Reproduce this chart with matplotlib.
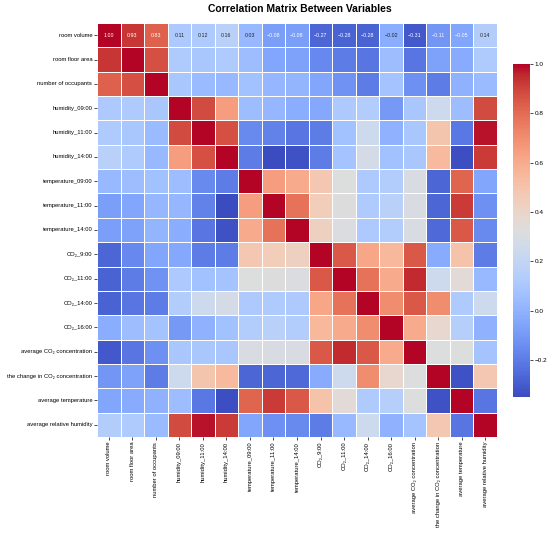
import matplotlib

matplotlib.use("Agg")
import matplotlib.pyplot as plt
import numpy as np
import seaborn as sns

plt.rcParams["font.family"] = ["Liberation Sans", "DejaVu Sans"]

labels = [
    "room volume",
    "room floor area",
    "number of occupants",
    "humidity_09:00",
    "humidity_11:00",
    "humidity_14:00",
    "temperature_09:00",
    "temperature_11:00",
    "temperature_14:00",
    "CO\u2082_9:00",
    "CO\u2082_11:00",
    "CO\u2082_14:00",
    "CO\u2082_16:00",
    "average CO\u2082 concentration",
    "the change in CO\u2082 concentration",
    "average temperature",
    "average relative humidity",
]

# correlation values (row by row)
corr_rows = [
    [1.00, 0.93, 0.83, 0.11, 0.12, 0.16, 0.03, -0.08, -0.08, -0.27, -0.28, -0.28, -0.02, -0.31, -0.11, -0.05, 0.14],
    [0.93, 1.00, 0.87, 0.12, 0.10, 0.12, 0.05, -0.05, -0.07, -0.16, -0.20, -0.22, 0.05, -0.22, -0.07, -0.03, 0.12],
    [0.83, 0.87, 1.00, 0.10, 0.04, 0.03, 0.07, 0.02, 0.01, -0.05, -0.12, -0.20, 0.08, -0.13, -0.20, 0.00, 0.04],
    [0.11, 0.12, 0.10, 1.00, 0.88, 0.65, 0.05, 0.02, -0.02, -0.04, 0.11, 0.13, -0.10, 0.10, 0.25, 0.05, 0.88],
    [0.12, 0.10, 0.04, 0.88, 1.00, 0.87, -0.15, -0.18, -0.22, -0.20, 0.07, 0.25, 0.00, 0.10, 0.49, -0.21, 0.98],
    [0.16, 0.12, 0.03, 0.65, 0.87, 1.00, -0.20, -0.35, -0.33, -0.20, 0.08, 0.28, 0.07, 0.10, 0.54, -0.34, 0.92],
    [0.03, 0.05, 0.07, 0.05, -0.15, -0.20, 1.00, 0.65, 0.60, 0.48, 0.32, 0.11, 0.13, 0.30, -0.27, 0.82, -0.05],
    [-0.08, -0.05, 0.02, 0.02, -0.18, -0.35, 0.65, 1.00, 0.78, 0.45, 0.33, 0.12, 0.16, 0.30, -0.27, 0.92, -0.13],
    [-0.08, -0.07, 0.01, -0.02, -0.22, -0.33, 0.60, 0.78, 1.00, 0.43, 0.31, 0.11, 0.13, 0.30, -0.26, 0.85, -0.15],
    [-0.27, -0.16, -0.05, -0.04, -0.20, -0.20, 0.48, 0.45, 0.43, 1.00, 0.85, 0.62, 0.55, 0.85, -0.03, 0.50, -0.20],
    [-0.28, -0.20, -0.12, 0.11, 0.07, 0.08, 0.32, 0.33, 0.31, 0.85, 1.00, 0.78, 0.60, 0.95, 0.25, 0.35, 0.03],
    [-0.28, -0.22, -0.20, 0.13, 0.25, 0.28, 0.11, 0.12, 0.11, 0.62, 0.78, 1.00, 0.70, 0.85, 0.70, 0.12, 0.25],
    [-0.02, 0.05, 0.08, -0.10, 0.00, 0.07, 0.13, 0.16, 0.13, 0.55, 0.60, 0.70, 1.00, 0.60, 0.38, 0.15, 0.00],
    [-0.31, -0.22, -0.13, 0.10, 0.10, 0.10, 0.30, 0.30, 0.30, 0.85, 0.95, 0.85, 0.60, 1.00, 0.32, 0.32, 0.08],
    [-0.11, -0.07, -0.20, 0.25, 0.49, 0.54, -0.27, -0.27, -0.26, -0.03, 0.25, 0.70, 0.38, 0.32, 1.00, -0.33, 0.48],
    [-0.05, -0.03, 0.00, 0.05, -0.21, -0.34, 0.82, 0.92, 0.85, 0.50, 0.35, 0.12, 0.15, 0.32, -0.33, 1.00, -0.22],
    [0.14, 0.12, 0.04, 0.88, 0.98, 0.92, -0.05, -0.13, -0.15, -0.20, 0.03, 0.25, 0.00, 0.08, 0.48, -0.22, 1.00],
]

corr = np.array(corr_rows)

# only the first row carries numbers
annot = np.full(corr.shape, "", dtype=object)
annot[0] = [f"{v:.2f}".replace("-", "\u2212") for v in corr[0]]

fig = plt.figure(figsize=(5.5, 5.36), dpi=100)
ax = fig.add_axes([97 / 550, 1 - 437 / 536, 400 / 550, 414 / 536])
cax = fig.add_axes([513 / 550, 1 - 397 / 536, 17 / 550, 333 / 536])

sns.heatmap(
    corr,
    ax=ax,
    cbar_ax=cax,
    cmap="coolwarm",
    annot=annot,
    fmt="",
    annot_kws={"fontsize": 3.8},
    linewidths=0.5,
    linecolor="white",
    xticklabels=labels,
    yticklabels=labels,
)

ax.tick_params(axis="both", labelsize=4.2, length=2, width=0.5, pad=1.5)
ax.set_xticklabels(labels, rotation=90)
ax.set_yticklabels(labels, rotation=0)
cax.tick_params(labelsize=4.6, length=2, width=0.5, pad=1.5)
cax.set_yticks([-0.2, 0.0, 0.2, 0.4, 0.6, 0.8, 1.0])

fig.suptitle("Correlation Matrix Between Variables", fontsize=7.5, fontweight="bold", x=0.545, y=0.992)

fig.savefig("out.png", dpi=100)
plt.close(fig)
